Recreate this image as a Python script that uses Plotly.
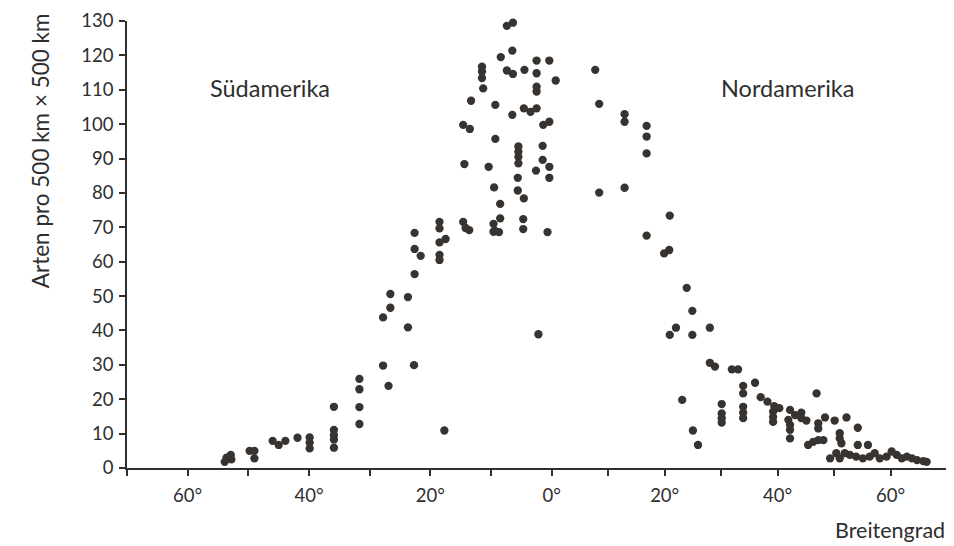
import plotly.graph_objects as go

# ---- data (latitude in degrees: negative = south, value = species per 500 km x 500 km)
south_lat = [-53.9, -53.6, -52.9, -52.8,
             -49.8, -49.0, -49.0,
             -46.0, -45.0, -43.9,
             -41.9,
             -39.9, -39.9, -39.9,
             -35.9, -35.9, -35.9, -35.9, -35.9,
             -31.7, -31.7, -31.7, -31.7,
             -27.8, -26.9, -26.6, -26.6, -27.8,
             -23.7, -23.7, -22.7, -22.6, -22.6, -21.6, -22.6,
             -18.5, -18.5, -18.5, -17.5, -18.5, -18.5, -17.7,
             -14.6, -14.2, -13.6, -14.6, -13.5, -14.4, -13.3,
             -11.5, -11.5, -11.5, -11.3,
             -10.4, -9.3, -9.3, -9.5, -9.6, -9.4, -8.7, -9.6,
             -8.5, -8.5, -8.4,
             -7.4, -6.4, -6.5, -7.4, -6.4, -6.5,
             -5.5, -5.5, -5.5, -5.5, -5.6, -5.6, -4.6,
             -4.5, -4.6, -3.5, -3.5, -4.7, -4.7,
             -2.5, -2.5, -2.5, -2.5, -2.5, -2.6, -2.2,
             -1.4, -1.5, -1.5, -0.7,
             -0.4, -0.4, -0.4, -0.4]
south_val = [1.8, 3.0, 3.8, 2.5,
             5.0, 5.0, 2.8,
             7.9, 6.7, 7.9,
             8.8,
             8.9, 7.4, 5.7,
             17.8, 11.1, 9.6, 8.3, 5.9,
             25.9, 22.9, 17.7, 12.8,
             29.8, 23.9, 50.6, 46.6, 43.8,
             49.7, 40.9, 29.9, 56.4, 63.7, 61.7, 68.4,
             71.6, 69.7, 65.6, 66.6, 62.0, 60.5, 10.9,
             71.6, 69.8, 69.2, 99.8, 98.6, 88.4, 106.8,
             116.7, 115.3, 113.4, 110.4,
             87.6, 105.6, 95.7, 81.6, 71.0, 69.0, 68.6, 68.7,
             76.8, 72.6, 119.5,
             128.6, 129.5, 121.4, 115.6, 114.6, 102.7,
             93.5, 92.0, 90.5, 88.6, 84.4, 80.7, 78.4,
             115.8, 104.6, 103.6, 130.3, 72.4, 69.5,
             118.5, 114.8, 110.9, 109.5, 104.6, 86.5, 38.9,
             99.8, 93.7, 89.6, 68.6,
             118.5, 100.7, 87.6, 84.4]

north_lat = [0.7, 7.7, 8.4, 8.4, 12.9, 12.9, 12.9, 16.8, 16.8, 16.8, 16.8,
             20.9, 20.8, 19.9, 23.9, 24.9, 22.0, 20.9, 24.9, 28.0, 28.0, 28.9,
             31.9, 33.0, 36.0, 33.9, 33.9, 23.1, 30.1, 30.1, 30.1, 30.1,
             33.9, 33.9, 33.9, 25.0, 25.9,
             37.0, 38.2, 39.4, 40.3, 39.2, 39.2, 39.2,
             46.9, 42.2, 43.1, 44.2, 41.9, 42.2, 42.2, 42.2, 44.2, 45.1,
             47.2, 47.2, 48.4, 50.1, 52.2, 54.2, 45.4, 46.3, 47.2, 48.1,
             51.0, 51.0, 51.3, 54.2, 56.0, 49.3, 50.4, 51.0, 51.9,
             52.8, 53.9, 55.1, 56.3, 57.2, 58.1, 59.3, 60.2, 61.1, 62.0,
             62.9, 63.8, 64.7, 65.8, 66.4]
north_val = [112.7, 115.8, 105.9, 80.1, 102.9, 100.7, 81.5, 99.5, 96.4, 91.5, 67.6,
             73.4, 63.4, 62.4, 52.4, 45.7, 40.8, 38.7, 38.7, 40.8, 30.6, 29.5,
             28.7, 28.7, 24.8, 23.9, 21.7, 19.8, 18.6, 15.9, 14.5, 13.2,
             17.8, 16.1, 14.5, 10.9, 6.7,
             20.6, 19.3, 18.0, 17.4, 16.4, 14.8, 13.4,
             21.7, 16.9, 15.4, 16.1, 14.0, 12.5, 11.1, 8.6, 14.5, 13.8,
             13.0, 11.5, 14.7, 13.8, 14.7, 11.7, 6.7, 7.6, 8.1, 8.1,
             10.1, 8.6, 7.2, 6.7, 6.7, 2.8, 4.3, 2.8, 4.3,
             3.8, 3.3, 2.8, 3.3, 4.3, 2.8, 3.3, 4.8, 3.8, 2.8,
             3.3, 2.8, 2.3, 2.0, 1.8]

south_ticks = [-70, -60, -50, -40, -30, -20, -10, 0]
south_ticktext = ["", "60°", "", "40°", "", "20°", "", "0°"]
north_ticks = [10, 20, 30, 40, 50, 60, 70]
north_ticktext = ["", "20°", "", "40°", "", "60°", ""]
y_ticks = list(range(0, 140, 10))

FONT = "Lato"
TXT = "#2e2e2e"
DOT = "#38332f"
AX = "#2f2f2f"

fig = go.Figure()
fig.add_trace(go.Scatter(x=south_lat, y=south_val, mode="markers", xaxis="x", yaxis="y",
                         marker=dict(size=8.3, color=DOT), cliponaxis=False, showlegend=False))
fig.add_trace(go.Scatter(x=north_lat, y=north_val, mode="markers", xaxis="x2", yaxis="y",
                         marker=dict(size=8.3, color=DOT), cliponaxis=False, showlegend=False))

axis_common = dict(showgrid=False, zeroline=False, showline=True, linecolor=AX, linewidth=1.8,
                   ticks="outside", ticklen=6, tickwidth=1.5, tickcolor=AX,
                   tickfont=dict(family=FONT, size=18.5, color=TXT))

split = 0.518
fig.update_layout(
    width=954, height=546,
    paper_bgcolor="white", plot_bgcolor="white",
    margin=dict(l=118.5, r=14.7, t=13, b=86, autoexpand=False),
    xaxis=dict(domain=[0, split], range=[-70, 0], tickvals=south_ticks, ticktext=south_ticktext,
               anchor="y", ticklabelstandoff=4, **axis_common),
    xaxis2=dict(domain=[split, 1], range=[0, 70], tickvals=north_ticks, ticktext=north_ticktext,
                anchor="y", ticklabelstandoff=4, **axis_common),
    yaxis=dict(range=[0, 130], tickvals=y_ticks, anchor="x", ticklabelstandoff=2, **axis_common),
    annotations=[
        dict(text="Südamerika", xref="paper", yref="paper", x=0.174, y=0.85, xanchor="center",
             yanchor="middle", showarrow=False, font=dict(family=FONT, size=23.5, color=TXT)),
        dict(text="Nordamerika", xref="paper", yref="paper", x=0.806, y=0.85, xanchor="center",
             yanchor="middle", showarrow=False, font=dict(family=FONT, size=23.5, color=TXT)),
        dict(text="Breitengrad", xref="paper", yref="paper", x=1.0, y=-0.139, xanchor="right",
             yanchor="middle", showarrow=False, font=dict(family=FONT, size=21.5, color=TXT)),
        dict(text="Arten pro 500 km × 500 km", xref="paper", yref="paper", x=-0.106, y=0.709,
             xanchor="center", yanchor="middle", textangle=-90, showarrow=False,
             font=dict(family=FONT, size=22.5, color=TXT)),
    ],
)

fig.write_html("out.html")
